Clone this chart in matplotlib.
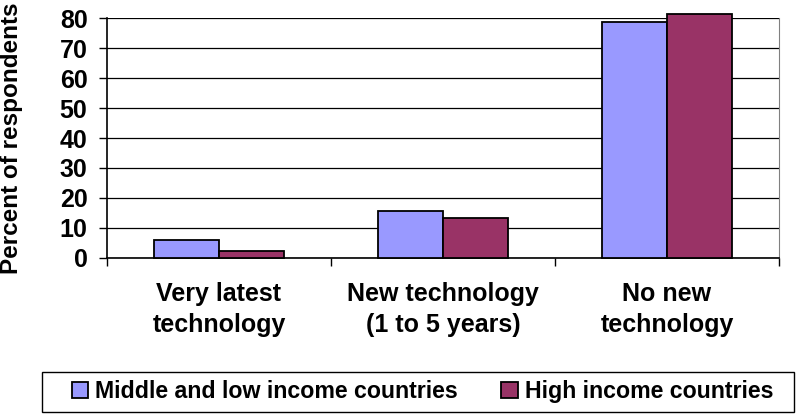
import matplotlib.pyplot as plt
from matplotlib.patches import Rectangle
import numpy as np

plt.rcParams['font.family'] = ['Liberation Sans', 'DejaVu Sans']
plt.rcParams['font.weight'] = 'bold'

categories = ['Very latest\ntechnology', 'New technology\n(1 to 5 years)', 'No new\ntechnology']
series_names = ['Middle and low income countries', 'High income countries']
mid_low = [5.9, 15.6, 78.7]
high = [2.4, 13.2, 81.3]
colors = ['#9999FF', '#993366']
yticks = [0, 10, 20, 30, 40, 50, 60, 70, 80]

fig = plt.figure(figsize=(7.96, 4.18), dpi=100)
ax = fig.add_axes([0.1344, 0.3828, 0.8442, 0.5741])

x = np.arange(len(categories))
w = 0.29
ax.bar(x - w / 2, mid_low, w, color=colors[0], edgecolor='black', linewidth=1.3,
       label=series_names[0], zorder=3, clip_on=False)
ax.bar(x + w / 2, high, w, color=colors[1], edgecolor='black', linewidth=1.3,
       label=series_names[1], zorder=3, clip_on=False)

ax.set_xlim(-0.5, 2.5)
ax.set_ylim(0, 80)
ax.set_yticks(yticks)
ax.yaxis.grid(True, color='black', linewidth=0.9, zorder=0)
ax.set_axisbelow(True)

# category boundaries as ticks, labels on minor ticks at the centers
ax.set_xticks([-0.5, 0.5, 1.5, 2.5])
ax.set_xticklabels([])
ax.set_xticks(x, minor=True)
ax.set_xticklabels(categories, minor=True, fontsize=18, linespacing=1.38)
ax.tick_params(axis='x', which='major', length=6, color='black', width=1)
ax.tick_params(axis='x', which='minor', length=0, pad=17)
ax.tick_params(axis='y', length=6, pad=8, labelsize=18, width=1)

ax.spines['top'].set_visible(False)
ax.spines['right'].set_color('#808080')
ax.spines['left'].set_linewidth(1.2)
ax.spines['bottom'].set_linewidth(1.2)

ax.set_ylabel('Percent of respondents', fontsize=17.5, fontweight='bold')
ax.yaxis.set_label_coords(-0.125, 0.5)

# legend entries spread across the box, frame drawn separately
fig.legend(loc='center', bbox_to_anchor=(0.0905, 0.0144, 0.8807, 0.0957),
           mode='expand', ncol=2, fontsize=16.7, frameon=False,
           handlelength=0.7, handleheight=0.7, handletextpad=0.3,
           borderaxespad=0, borderpad=0)
fig.patches.append(Rectangle((42 / 796, 1 - 412 / 418), 752 / 796, 40 / 418,
                             transform=fig.transFigure, fill=False,
                             edgecolor='black', linewidth=1))

fig.savefig('out.png', dpi=100)
